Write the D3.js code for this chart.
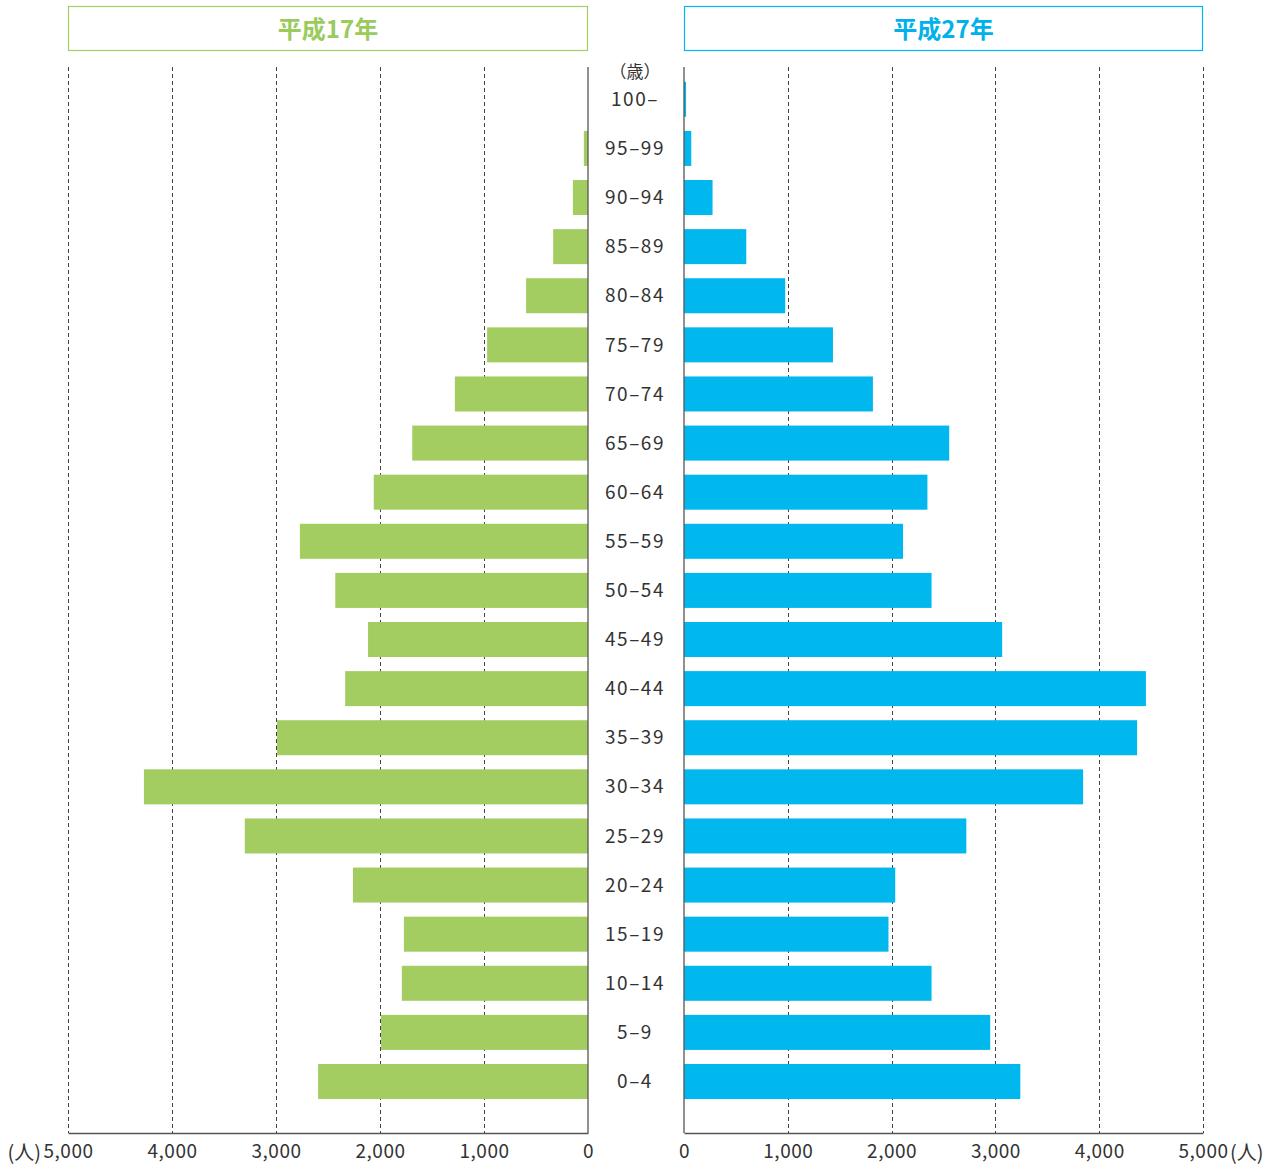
<!DOCTYPE html>
<html>
<head>
<meta charset="utf-8">
<script src="https://cdn.jsdelivr.net/npm/d3@7"></script>
<style>
  body { margin: 0; background: #fff; }
  svg { font-family: "Noto Sans CJK JP", "Noto Sans", sans-serif; }
</style>
</head>
<body>
<svg width="1276" height="1167"></svg>
<script>
"use strict"

// 年齢階級（上から）
const ageGroups = ["100–", "95–99", "90–94", "85–89", "80–84", "75–79", "70–74", "65–69",
    "60–64", "55–59", "50–54", "45–49", "40–44", "35–39", "30–34", "25–29",
    "20–24", "15–19", "10–14", "5–9", "0–4"]

// 平成17年（人）
const valuesH17 = [0, 40, 145, 335, 595, 970, 1280, 1690, 2060, 2770, 2430, 2115,
    2335, 2990, 4270, 3300, 2260, 1770, 1790, 1990, 2595]

// 平成27年（人）
const valuesH27 = [20, 70, 275, 600, 975, 1435, 1820, 2555, 2345, 2110, 2385, 3065,
    4450, 4365, 3845, 2720, 2035, 1970, 2385, 2950, 3240]

const tickValues = [0, 1000, 2000, 3000, 4000, 5000]

const titles = ["平成17年", "平成27年"]
const colors = ["#a3cd61", "#00b7ee"]
const titleColors = ["#9acb5c", "#00b1ea"]

const svg = d3.select("svg")

const area = {
    top: 67,
    bottom: 1133,
    leftX0: 68, leftX1: 588,
    rightX0: 684, rightX1: 1203
}

// 縦方向のバンド
const scaleY = d3.scaleBand()
    .domain(ageGroups)
    .range([74.75, 74.75 + 49.11 * ageGroups.length])
    .paddingInner(0.287)
    .paddingOuter(0.1435)

// 横方向のスケール（左は反転）
const scaleL = d3.scaleLinear().domain([0, 5000]).range([area.leftX1, area.leftX0])
const scaleR = d3.scaleLinear().domain([0, 5000]).range([area.rightX0, area.rightX1])

function drawPanel(scaleX, values, idx) {
    const [x0, x1] = d3.extent(scaleX.range())

    // タイトル枠
    svg.append("rect")
        .attr("x", x0 + 0.5)
        .attr("y", 6.5)
        .attr("width", x1 - x0 - 1)
        .attr("height", 44)
        .style("fill", "none")
        .style("stroke", colors[idx])
        .style("stroke-width", 1.2)

    svg.append("text")
        .attr("x", (x0 + x1) / 2)
        .attr("y", 38)
        .attr("text-anchor", "middle")
        .style("font-size", "24px")
        .style("font-weight", "bold")
        .style("fill", titleColors[idx])
        .text(titles[idx])

    // 補助線（点線）
    svg.append("g")
        .selectAll("line")
        .data(tickValues.filter(d => d > 0))
        .enter()
        .append("line")
        .attr("x1", d => Math.round(scaleX(d)) + 0.5)
        .attr("x2", d => Math.round(scaleX(d)) + 0.5)
        .attr("y1", area.top)
        .attr("y2", area.bottom)
        .style("stroke", "#444")
        .style("stroke-width", 1)
        .style("stroke-dasharray", "4,3")

    // 棒
    svg.append("g")
        .selectAll("rect")
        .data(values)
        .enter()
        .append("rect")
        .attr("x", d => Math.min(scaleX(0), scaleX(d)))
        .attr("y", (d, i) => scaleY(ageGroups[i]))
        .attr("width", d => Math.abs(scaleX(d) - scaleX(0)))
        .attr("height", scaleY.bandwidth())
        .style("fill", colors[idx])

    // 軸
    const axis = d3.axisBottom(scaleX)
        .tickValues(tickValues)
        .tickSize(0)
        .tickPadding(12)
        .tickFormat(d3.format(","))

    const g = svg.append("g")
        .attr("transform", `translate(0, ${area.bottom})`)
        .call(axis)
    g.select(".domain").style("stroke", "#555").style("stroke-width", 1.3)
    g.selectAll("text")
        .style("font-size", "19px")
        .style("letter-spacing", "0.5px")
        .style("fill", "#333")
        .style("font-family", "\"Noto Sans CJK JP\", sans-serif")

    // 0の縦線
    svg.append("line")
        .attr("x1", scaleX(0))
        .attr("x2", scaleX(0))
        .attr("y1", area.top)
        .attr("y2", area.bottom)
        .style("stroke", "#555")
        .style("stroke-width", 1.3)
}

drawPanel(scaleL, valuesH17, 0)
drawPanel(scaleR, valuesH27, 1)

// 年齢ラベル
const midX = (area.leftX1 + area.rightX0) / 2 - 1
svg.append("g")
    .selectAll("text")
    .data(ageGroups)
    .enter()
    .append("text")
    .attr("x", midX)
    .attr("y", d => scaleY(d) + scaleY.bandwidth() / 2)
    .attr("dy", "0.35em")
    .attr("text-anchor", "middle")
    .style("font-size", "19px")
    .style("letter-spacing", "1.5px")
    .style("fill", "#333")
    .text(d => d)

svg.append("text")
    .attr("x", midX)
    .attr("y", 78)
    .attr("text-anchor", "middle")
    .style("font-size", "17px")
    .style("fill", "#333")
    .text("（歳）")

// 単位
svg.append("text")
    .attr("x", 41)
    .attr("y", 1160)
    .attr("text-anchor", "end")
    .style("font-size", "20px")
    .style("fill", "#333")
    .text("(人)")

svg.append("text")
    .attr("x", 1230)
    .attr("y", 1160)
    .attr("text-anchor", "start")
    .style("font-size", "20px")
    .style("fill", "#333")
    .text("(人)")
</script>
</body>
</html>
